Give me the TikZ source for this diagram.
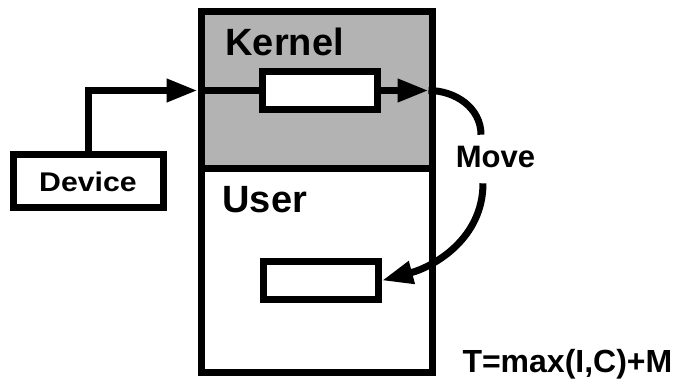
\documentclass[tikz,border=0pt]{standalone}
\usepackage{fontspec}
\setmainfont{Liberation Sans}
\usetikzlibrary{arrows.meta,positioning,calc}
\definecolor{kernelgray}{HTML}{B3B3B3}
\newcommand{\fsize}[1]{\fontsize{#1}{#1}\selectfont}

\begin{document}
\begin{tikzpicture}[x=1pt, y=1pt, line width=7pt,
    space/.style={draw, minimum width=231pt, inner sep=0pt},
    buf/.style={draw, fill=white, minimum width=115pt, minimum height=38pt, inner sep=0pt},
    label/.style={anchor=base west, inner sep=0pt, font=\bfseries\fsize{38}},
    flow/.style={-{Triangle[length=31pt, width=22pt]}}]
    \useasboundingbox (0,0) rectangle (673,386);

    % address spaces
    \node[space, fill=kernelgray, minimum height=157pt] (kernel) at (316.5,295.5) {};
    \node[space, minimum height=204pt] (user) at (316.5,115) {};
    \node[label] (kernellabel) at (222,330) {Kernel};
    \node[label] (userlabel) at (219,173) {User};

    % buffers
    \node[buf] (kbuf) at (320,295.5) {};
    \node[buf] (ubuf) at (321,105.5) {};
    \node[draw, minimum width=150pt, minimum height=53pt, inner sep=0pt,
          font=\bfseries\fsize{27}] (device) at (88,204.5) {\scalebox{1.12}[1]{Device}};

    \node[inner sep=0pt, font=\bfseries\fsize{31}] (move) at (495.5,229) {Move};
    \node[anchor=base west, inner sep=0pt, font=\bfseries\fsize{32}] (cost) at (459,13) {T=max(I,C)+M};

    \coordinate (kedge) at (kbuf -| kernel.east);
    \coordinate (mtop) at ([xshift=-14.5pt, yshift=8pt]move.north);
    \coordinate (mbot) at ([xshift=-12.5pt, yshift=-12pt]move.south);

    % data path
    \draw[flow] (device.north) |- (kernel.west |- kbuf);
    \draw (kernel.west |- kbuf) -- (kbuf.west);
    \draw[flow] (kbuf.east) -- ([xshift=-7pt]kedge);
    \draw ([xshift=-7pt]kedge) to[out=0, in=90] (mtop);
    \draw[flow] (mbot) to[out=-90, in=15] (ubuf.east);
\end{tikzpicture}
\end{document}
